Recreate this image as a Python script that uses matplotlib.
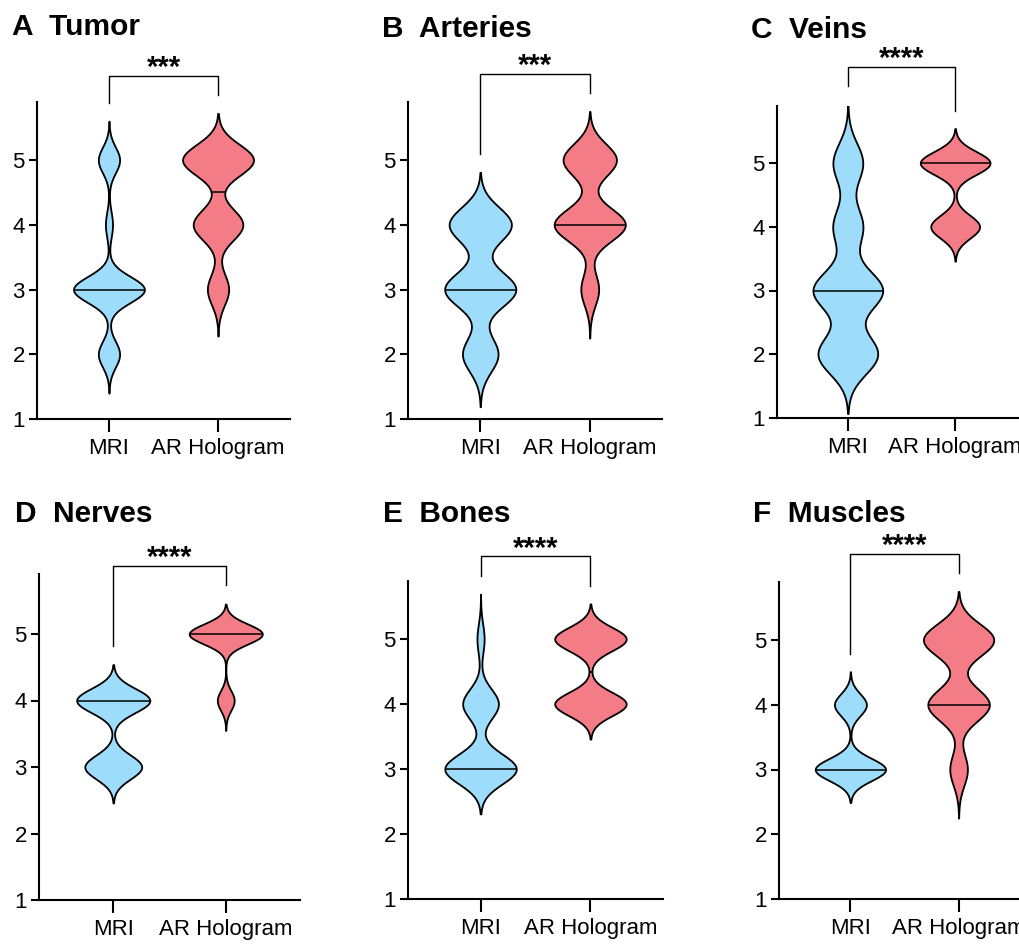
import numpy as np
import matplotlib
matplotlib.use('Agg')
import matplotlib.pyplot as plt

plt.rcParams['font.family'] = ['Liberation Sans', 'DejaVu Sans']

# ---- data: number of ratings given for each score (1..5) ----
scores = [1, 2, 3, 4, 5]
groups = ['MRI', 'AR Hologram']
titles = ['A  Tumor', 'B  Arteries', 'C  Veins', 'D  Nerves', 'E  Bones', 'F  Muscles']
stars = ['***', '***', '****', '****', '****', '****']

tumor_mri = [0, 3, 10, 1, 3]
tumor_ar = [0, 0, 3, 7, 10]
arteries_mri = [0, 4, 8, 7, 0]
arteries_ar = [0, 0, 2, 8, 6]
veins_mri = [0, 6, 7, 3, 3]
veins_ar = [0, 0, 0, 7, 10]
nerves_mri = [0, 0, 7, 9, 0]
nerves_ar = [0, 0, 0, 3, 13]
bones_mri = [0, 0, 10, 5, 1]
bones_ar = [0, 0, 0, 8, 8]
muscles_mri = [0, 0, 11, 5, 0]
muscles_ar = [0, 0, 2, 7, 8]

counts = [(tumor_mri, tumor_ar), (arteries_mri, arteries_ar), (veins_mri, veins_ar),
          (nerves_mri, nerves_ar), (bones_mri, bones_ar), (muscles_mri, muscles_ar)]

# ---- style / layout ----
colors = ['#9DDCFB', '#F47C86']
bandwidths = [(0.20, 0.24), (0.27, 0.25), (0.31, 0.18),
              (0.18, 0.15), (0.23, 0.18), (0.17, 0.25)]
CUT = 3.0
# axes in pixels: left, right, y-pixel of value 1, y-pixel of value 5
boxes = [(37, 290, 419, 160), (408, 662, 419, 160), (777, 1026, 418, 163),
         (39, 300, 900, 634), (408, 663, 899, 639), (779, 1030, 899, 640)]
# title baseline positions in pixels
title_pos = [(12, 35), (382, 37), (751, 38), (15, 522), (383, 522), (753, 522)]
W, H = 1019, 944
YMAX = 5.9


def kde_stats(cnt, bw):
    data = np.repeat(scores, cnt).astype(float)
    lo = data.min() - CUT * bw
    hi = data.max() + CUT * bw
    coords = np.linspace(lo, hi, 400)
    vals = np.exp(-0.5 * ((coords[:, None] - data[None, :]) / bw) ** 2).sum(axis=1)
    return dict(coords=coords, vals=vals, mean=data.mean(), median=np.median(data),
                min=lo, max=hi)


fig = plt.figure(figsize=(W / 100, H / 100), dpi=100)

for i in range(6):
    left, right, y1, y5 = boxes[i]
    unit = (y1 - y5) / 4.0
    ytop = y1 - (YMAX - 1) * unit
    ax = fig.add_axes([left / W, 1 - y1 / H, (right - left) / W, (y1 - ytop) / H])

    stats = [kde_stats(counts[i][k], bandwidths[i][k]) for k in range(2)]
    width = 0.65
    parts = ax.violin(stats, positions=[1, 2], widths=width,
                      showmeans=False, showextrema=False, showmedians=False)
    for k, body in enumerate(parts['bodies']):
        body.set_facecolor(colors[k])
        body.set_edgecolor('black')
        body.set_linewidth(1.3)
        body.set_alpha(1)

    # median line across the violin
    for k, st in enumerate(stats):
        half = np.interp(st['median'], st['coords'], st['vals']) / st['vals'].max() * width / 2
        ax.hlines(st['median'], k + 1 - half, k + 1 + half, color='black', linewidth=1.1, zorder=3)

    ax.set_xlim(0.34, 2.66)
    ax.set_ylim(1, YMAX)
    ax.set_yticks([1, 2, 3, 4, 5])
    ax.set_xticks([1, 2])
    ax.set_xticklabels(groups)
    for s in ['top', 'right']:
        ax.spines[s].set_visible(False)
    for s in ['left', 'bottom']:
        ax.spines[s].set_linewidth(1.5)
    ax.tick_params(axis='y', length=5.8, width=1.5, labelsize=16, pad=3)
    ax.tick_params(axis='x', length=9.4, width=1.5, labelsize=16, pad=4)

    # significance bracket
    legs = [st['max'] + 0.28 for st in stats]
    top = max(legs) + 0.3
    ax.plot([1, 1, 2, 2], [legs[0], top, top, legs[1]], color='black',
            linewidth=1.0, clip_on=False)
    ax.annotate(stars[i], xy=(1.5, top), xytext=(0, 0), textcoords='offset points',
                ha='center', va='baseline', fontsize=21, fontweight='bold',
                annotation_clip=False)

    fig.text(title_pos[i][0] / W, 1 - title_pos[i][1] / H, titles[i],
             ha='left', va='baseline', fontsize=21.5, fontweight='bold')

fig.savefig('out.png', dpi=100)
